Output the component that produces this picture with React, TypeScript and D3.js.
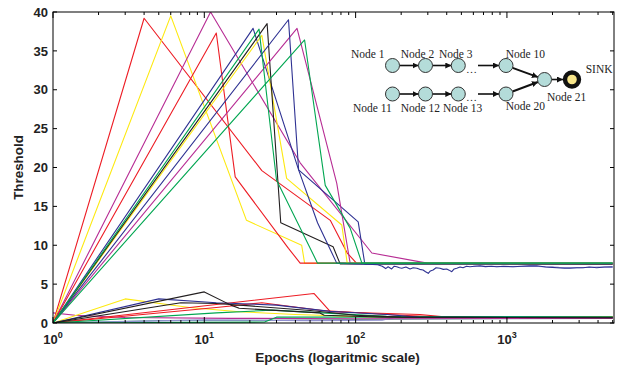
import React, { useEffect, useRef } from 'react';
import * as d3 from 'd3';

// axis setup
const X_MAX = 5100;
const yTicks = [0, 5, 10, 15, 20, 25, 30, 35, 40];
const xTickExps = [0, 1, 2, 3];

const RED = '#ed1c24';
const YELLOW = '#fde910';
const MAGENTA = '#b72c94';
const BLUE = '#2e3192';
const GREEN = '#00a651';
const BLACK = '#231f20';
const LAVENDER = '#8f8fd0';
const TEAL = '#5fa39a';

// upper group: [epoch, threshold]
const redA = [[1, 0], [4, 39.2], [24, 19.6], [68, 13.2], [88, 9.0], [102, 7.65], [5000, 7.65]];
const yellowA = [[1, 0], [6, 39.5], [19, 13.2], [44, 10.0], [46, 7.7], [5000, 7.6]];
const magentaA = [[1, 0], [11, 40], [43, 20.6], [128, 9.0], [297, 7.7], [5000, 7.6]];
const redB = [[1, 0], [12, 37.3], [16, 18.8], [36, 9.6], [43, 7.7], [5000, 7.7]];
const blueA = [[1, 0], [21, 37.9], [42, 19.7], [104, 13.0], [115, 7.6], [5000, 7.6]];
const yellowB = [[1, 0], [24, 37.0], [35, 18.6], [81, 12.6], [88, 7.7], [5000, 7.65]];
const blackA = [[1, 0], [26, 38.5], [32, 12.9], [71, 9.8], [79, 7.6], [5000, 7.6]];
const magentaB = [[1, 0], [41, 37.9], [75, 18.0], [92, 7.7], [5000, 7.65]];
const greenA = [[1, 0], [23, 37.8], [30, 18.4], [56, 7.7], [5000, 7.7]];
const greenB = [[1, 0], [46, 36.4], [63, 17.7], [92, 12.2], [110, 7.7], [5000, 7.72]];
const blueB = [
  [1, 0], [36, 39.0], [42, 19.7], [56, 12.9], [75, 7.7], [100, 7.6], [120, 7.55], [140, 7.5],
  [150, 7.3], [158, 7.0], [164, 7.24], [173, 6.95], [180, 7.3], [187, 7.24], [195, 7.1],
  [202, 7.04], [215, 7.2], [229, 6.95], [240, 7.1], [254, 7.04], [265, 6.9], [279, 6.82],
  [290, 6.6], [302, 6.39], [312, 6.7], [325, 6.82], [340, 7.1], [361, 7.04], [380, 6.9],
  [400, 6.95], [415, 6.8], [432, 6.6], [448, 6.95], [466, 7.04], [490, 7.2], [513, 7.11],
  [540, 7.3], [570, 7.24], [610, 7.3], [664, 7.37], [720, 7.25], [790, 7.3], [856, 7.24],
  [950, 7.3], [1097, 7.24], [1250, 7.3], [1400, 7.35], [1574, 7.37], [1800, 7.2], [2000, 7.15],
  [2134, 7.11], [2400, 7.05], [2613, 7.04], [2900, 7.1], [3186, 7.11], [3500, 7.2],
  [3924, 7.11], [4400, 7.2], [5000, 7.24],
];
const lavenderA = [[600, 7.3], [1000, 7.25], [1500, 7.3], [2200, 7.15], [3000, 7.1], [4000, 7.2], [5000, 7.15]];

// lower group
const yellowL = [[1, 0], [3, 3.1], [8, 2.0], [17, 1.45], [40, 1.1], [120, 0.8], [5000, 0.75]];
const blueL = [[1, 0], [5, 3.1], [12, 2.6], [30, 2.3], [68, 1.5], [160, 1.1], [260, 0.75], [5000, 0.7]];
const blackL = [[1, 0], [10, 4.0], [15, 2.3], [17, 1.9], [58, 1.3], [62, 1.0], [150, 0.75], [5000, 0.68]];
const blackL2 = [[1, 0], [7, 2.6], [12, 2.5], [20, 2.2], [50, 1.6], [100, 1.0], [200, 0.75], [5000, 0.68]];
const redL = [[1, 0], [53, 3.8], [68, 1.45], [266, 1.1], [400, 0.75], [5000, 0.75]];
const redL2 = [[1, 0], [12, 2.0], [24, 2.6], [60, 1.6], [200, 1.0], [350, 0.8], [5000, 0.78]];
const greenL = [[1, 0], [12, 1.3], [28, 1.65], [160, 0.85], [5000, 0.8]];
const magentaL = [[1, 1.3], [1.4, 1.0], [3, 0.7], [15, 0.6], [100, 0.55], [5000, 0.6]];
const tealL = [[1, 0], [5, 0.3], [30, 0.35], [100, 0.45], [5000, 0.6]];
const greenL2 = [[1, 0], [25, 0.12], [30, 0.75], [5000, 0.78]];
const lavenderL = [[1, 0], [10, 0.4], [50, 0.3], [150, 0.35], [180, 0.7], [5000, 0.7]];

export default function App() {
  const ref = useRef<SVGSVGElement>(null);
  useEffect(() => {
    draw();
    // eslint-disable-next-line react-hooks/exhaustive-deps
  }, []);

  function draw() {
    const svg = d3.select(ref.current);
    svg.selectAll('*').remove();
    const x = d3.scaleLog().domain([1, X_MAX]).range([53, 614]);
    const y = d3.scaleLinear().domain([0, 40]).range([323, 12]);
    const [x0, x1] = x.range();
    const [y0, y1] = y.range();

    svg.append('rect').attr('width', 623).attr('height', 371).attr('fill', '#fff');
    svg.append('clipPath').attr('id', 'plot-clip').append('rect')
      .attr('x', x0).attr('y', y1).attr('width', x1 - x0).attr('height', y0 - y1);

    const series = [
      { d: tealL, c: TEAL }, { d: lavenderL, c: LAVENDER }, { d: magentaL, c: MAGENTA },
      { d: greenL2, c: GREEN }, { d: yellowL, c: YELLOW }, { d: redL2, c: RED },
      { d: redL, c: RED }, { d: greenL, c: GREEN }, { d: blueL, c: BLUE },
      { d: blackL2, c: BLACK }, { d: blackL, c: BLACK },
      { d: redA, c: RED }, { d: yellowA, c: YELLOW }, { d: magentaA, c: MAGENTA },
      { d: redB, c: RED }, { d: blueA, c: BLUE }, { d: yellowB, c: YELLOW },
      { d: blackA, c: BLACK }, { d: magentaB, c: MAGENTA }, { d: lavenderA, c: LAVENDER },
      { d: blueB, c: BLUE }, { d: greenA, c: GREEN }, { d: greenB, c: GREEN },
    ];
    const line = d3.line<number[]>().x((d) => x(d[0])).y((d) => y(d[1]));
    const g = svg.append('g').attr('clip-path', 'url(#plot-clip)');
    g.selectAll('path')
      .data(series)
      .enter()
      .append('path')
      .attr('d', (s) => line(s.d))
      .attr('fill', 'none')
      .attr('stroke', (s) => s.c)
      .attr('stroke-width', 1.1)
      .attr('stroke-linejoin', 'round');

    // frame + ticks
    const ax = svg.append('g').attr('stroke', '#000').attr('stroke-width', 1);
    ax.append('rect').attr('x', x0).attr('y', y1).attr('width', x1 - x0).attr('height', y0 - y1).attr('fill', 'none');
    yTicks.forEach((v) => {
      ax.append('line').attr('x1', x0).attr('x2', x0 + 4).attr('y1', y(v)).attr('y2', y(v));
      ax.append('line').attr('x1', x1).attr('x2', x1 - 4).attr('y1', y(v)).attr('y2', y(v));
    });
    const xTickVals: number[] = [];
    for (let e = 0; e <= 3; e++) for (let k = 1; k <= 9; k++) {
      const v = k * Math.pow(10, e);
      if (v <= X_MAX) xTickVals.push(v);
    }
    xTickVals.forEach((v) => {
      const major = Math.log10(v) % 1 === 0;
      const len = major ? 6 : 3;
      ax.append('line').attr('x1', x(v)).attr('x2', x(v)).attr('y1', y0).attr('y2', y0 - len);
      ax.append('line').attr('x1', x(v)).attr('x2', x(v)).attr('y1', y1).attr('y2', y1 + len);
    });

    const font = "'Liberation Sans', Arial, sans-serif";
    const tl = svg.append('g').attr('font-family', font).attr('font-weight', 'bold').attr('fill', '#222');
    yTicks.forEach((v) => {
      tl.append('text').attr('x', 48).attr('y', y(v)).attr('dy', '0.36em')
        .attr('text-anchor', 'end').attr('font-size', 13).text(v);
    });
    xTickExps.forEach((e) => {
      const t = tl.append('text').attr('x', x(Math.pow(10, e))).attr('y', 343.5)
        .attr('text-anchor', 'middle').attr('font-size', 13);
      t.append('tspan').text('10');
      t.append('tspan').attr('dy', -6).attr('font-size', 9).text(e);
    });
    tl.append('text').attr('x', (x0 + x1) / 2 + 4).attr('y', 362).attr('text-anchor', 'middle')
      .attr('font-size', 13.6).text('Epochs (logaritmic scale)');
    tl.append('text').attr('transform', `translate(23,${(y0 + y1) / 2}) rotate(-90)`)
      .attr('text-anchor', 'middle').attr('font-size', 13.4).text('Threshold');

    // network inset
    const r = 7;
    const row1 = 65.5;
    const row2 = 94;
    const cols = [392.5, 425.5, 458.3, 506];
    const n21 = { x: 544.5, y: 79.5 };
    const sink = { x: 572, y: 79.5 };
    const net = svg.append('g');
    svg.append('defs').append('marker').attr('id', 'arr').attr('viewBox', '0 0 10 10')
      .attr('refX', 10).attr('refY', 5).attr('markerWidth', 6).attr('markerHeight', 6)
      .attr('markerUnits', 'userSpaceOnUse').attr('orient', 'auto')
      .append('path').attr('d', 'M0,0 L10,5 L0,10 z').attr('fill', '#111');
    const arrow = (ax1: number, ay1: number, ax2: number, ay2: number, w = 1.6) => {
      net.append('line').attr('x1', ax1).attr('y1', ay1).attr('x2', ax2).attr('y2', ay2)
        .attr('stroke', '#111').attr('stroke-width', w).attr('marker-end', 'url(#arr)');
    };
    [row1, row2].forEach((ry) => {
      arrow(cols[0] + r, ry, cols[1] - r, ry);
      arrow(cols[1] + r, ry, cols[2] - r, ry);
      arrow(478, ry, cols[3] - r, ry);
      const dx = n21.x - cols[3];
      const dy = n21.y - ry;
      const len = Math.hypot(dx, dy);
      arrow(cols[3] + (dx / len) * r, ry + (dy / len) * r, n21.x - (dx / len) * r, n21.y - (dy / len) * r, 2);
      net.append('text').attr('x', 466).attr('y', ry + 7).attr('font-family', "'Liberation Serif', 'Times New Roman', serif")
        .attr('font-size', 11).attr('fill', '#222').text('…');
    });
    arrow(n21.x + r, n21.y, sink.x - 9, sink.y);
    [row1, row2].forEach((ry) => cols.forEach((cx) => {
      net.append('circle').attr('cx', cx).attr('cy', ry).attr('r', r)
        .attr('fill', '#b4dcd9').attr('stroke', '#333').attr('stroke-width', 1);
    }));
    net.append('circle').attr('cx', n21.x).attr('cy', n21.y).attr('r', r)
      .attr('fill', '#b4dcd9').attr('stroke', '#333').attr('stroke-width', 1);
    net.append('circle').attr('cx', sink.x).attr('cy', sink.y).attr('r', 7)
      .attr('fill', '#f8e68a').attr('stroke', '#111').attr('stroke-width', 4.4);

    const labels = [
      { t: 'Node 1', x: 351, y: 57.5 }, { t: 'Node 2', x: 400.7, y: 57.5 },
      { t: 'Node 3', x: 439, y: 57.5 }, { t: 'Node 10', x: 505.7, y: 57.5 },
      { t: 'SINK', x: 585.7, y: 72.5 }, { t: 'Node 11', x: 353, y: 111.5 },
      { t: 'Node 12', x: 400.7, y: 111.5 }, { t: 'Node 13', x: 443, y: 111.5 },
      { t: 'Node 20', x: 505.7, y: 110 }, { t: 'Node 21', x: 547, y: 101 },
    ];
    net.selectAll('text.lbl').data(labels).enter().append('text').attr('class', 'lbl')
      .attr('x', (d) => d.x).attr('y', (d) => d.y)
      .attr('font-family', "'Liberation Serif', 'Times New Roman', serif")
      .attr('font-size', 11.5).attr('fill', '#222').text((d) => d.t);
  }

  return <svg ref={ref} width={623} height={371} style={{ position: 'absolute', left: 0, top: 0 }} />;
}
